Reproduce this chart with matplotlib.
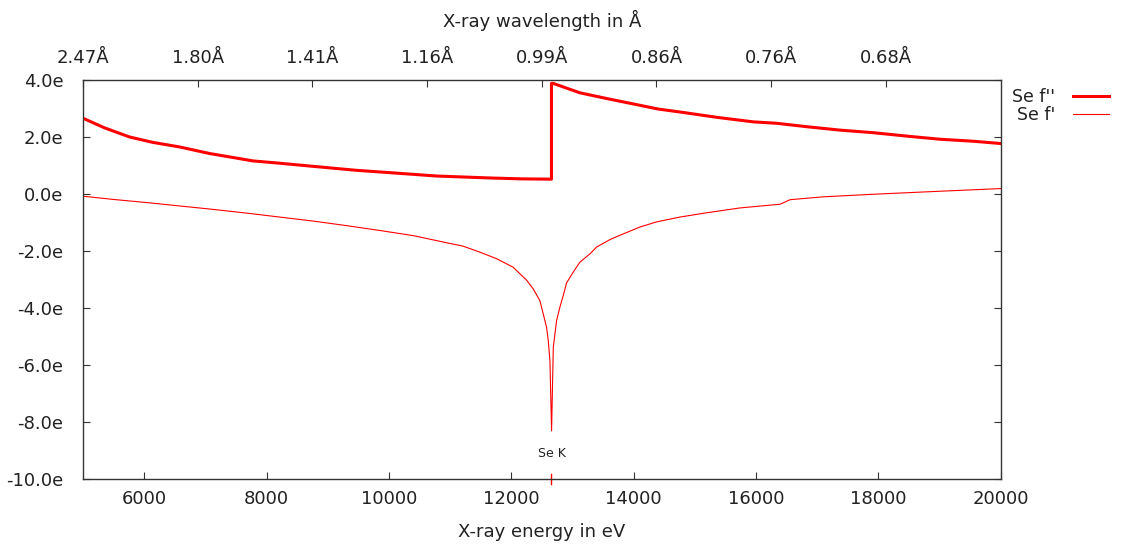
import numpy as np
import matplotlib.pyplot as plt

# Se f'' (absorption)
fpp_energy = [5008, 5352, 5761, 6142, 6579, 7069, 7451, 7778, 8160, 8759, 9469, 10068,
              10778, 11159, 11677, 12168, 12658,
              12658, 12685, 13122, 13559, 14403, 14812, 15358, 15957, 16340, 16831,
              17376, 17920, 18466, 19011, 19556, 20000]
fpp_value = [2.65, 2.32, 2.00, 1.81, 1.65, 1.42, 1.28, 1.16, 1.09, 0.97, 0.83, 0.74,
             0.63, 0.60, 0.56, 0.53, 0.52,
             3.88, 3.88, 3.55, 3.35, 2.98, 2.86, 2.69, 2.53, 2.48, 2.36,
             2.24, 2.15, 2.03, 1.92, 1.85, 1.77]

# Se f' (dispersion)
fp_energy = [5008, 5488, 6034, 6579, 7124, 7670, 8215, 8759, 9306, 9850, 10395, 10941,
             11213, 11486, 11760, 12031, 12250, 12360, 12468, 12524, 12578, 12606,
             12633, 12660, 12688, 12742, 12796, 12851, 12905, 13014, 13124, 13288,
             13397, 13615, 13776, 14103, 14376, 14758, 15194, 15739, 16394, 16560,
             17102, 17916, 18738, 20000]
fp_value = [-0.08, -0.19, -0.30, -0.42, -0.54, -0.67, -0.81, -0.95, -1.11, -1.28, -1.46, -1.71,
            -1.83, -2.04, -2.27, -2.57, -3.02, -3.33, -3.74, -4.21, -4.68, -5.15,
            -5.85, -8.31, -5.38, -4.44, -3.97, -3.56, -3.12, -2.74, -2.39, -2.10,
            -1.86, -1.60, -1.45, -1.16, -0.98, -0.81, -0.66, -0.49, -0.36, -0.20,
            -0.10, -0.01, 0.07, 0.19]

edge_energy = 12658
edge_label = 'Se K'

energy_ticks = [6000, 8000, 10000, 12000, 14000, 16000, 18000, 20000]
value_ticks = [-10, -8, -6, -4, -2, 0, 2, 4]
wl_tick_energy = [5000, 6875, 8750, 10625, 12500, 14375, 16250, 18125]
wl_tick_labels = ['2.47Å', '1.80Å', '1.41Å', '1.16Å', '0.99Å', '0.86Å', '0.76Å', '0.68Å']

axis_col = '#333333'
text_col = '#222222'
fs = 13

fig = plt.figure(figsize=(11.23, 5.44), dpi=100)
ax = fig.add_axes([0.0739, 0.1195, 0.8171, 0.7335])

ax.plot(fpp_energy, fpp_value, color='red', lw=2.2, label="Se f''")
ax.plot(fp_energy, fp_value, color='red', lw=0.8, label="Se f'")

ax.set_xlim(5000, 20000)
ax.set_ylim(-10, 4)
ax.set_xticks(energy_ticks)
ax.set_yticks(value_ticks)
ax.set_yticklabels(['%.1fe' % v for v in value_ticks])
ax.tick_params(direction='in', length=5, color=axis_col, labelcolor=text_col,
               labelsize=fs, right=True)
ax.tick_params(axis='y', pad=14)
ax.tick_params(axis='x', pad=8)
for s in ax.spines.values():
    s.set_color(axis_col)
    s.set_linewidth(1.0)

ax.set_xlabel('X-ray energy in eV', fontsize=fs, color=text_col, labelpad=11)

# absorption edge marker
ax.axvline(edge_energy, ymin=-0.012, ymax=0.012, color='red', lw=1, clip_on=False)
ax.text(edge_energy, -9.1, edge_label, fontsize=9, ha='center', va='center', color=text_col)

# wavelength axis on top
top = ax.twiny()
top.set_xlim(ax.get_xlim())
top.set_xticks(wl_tick_energy)
top.set_xticklabels(wl_tick_labels)
top.tick_params(direction='in', length=5, color=axis_col, labelcolor=text_col,
                labelsize=fs, pad=9)
for s in top.spines.values():
    s.set_visible(False)
top.set_xlabel('X-ray wavelength in Å', fontsize=fs, color=text_col, labelpad=16)

ax.legend(loc='upper left', bbox_to_anchor=(1.0, 1.01), frameon=False,
          markerfirst=False, fontsize=12.5, handlelength=2.1, handletextpad=1.0,
          labelspacing=0.0, borderaxespad=0.27, labelcolor=text_col)

fig.savefig('out.png', dpi=100)
